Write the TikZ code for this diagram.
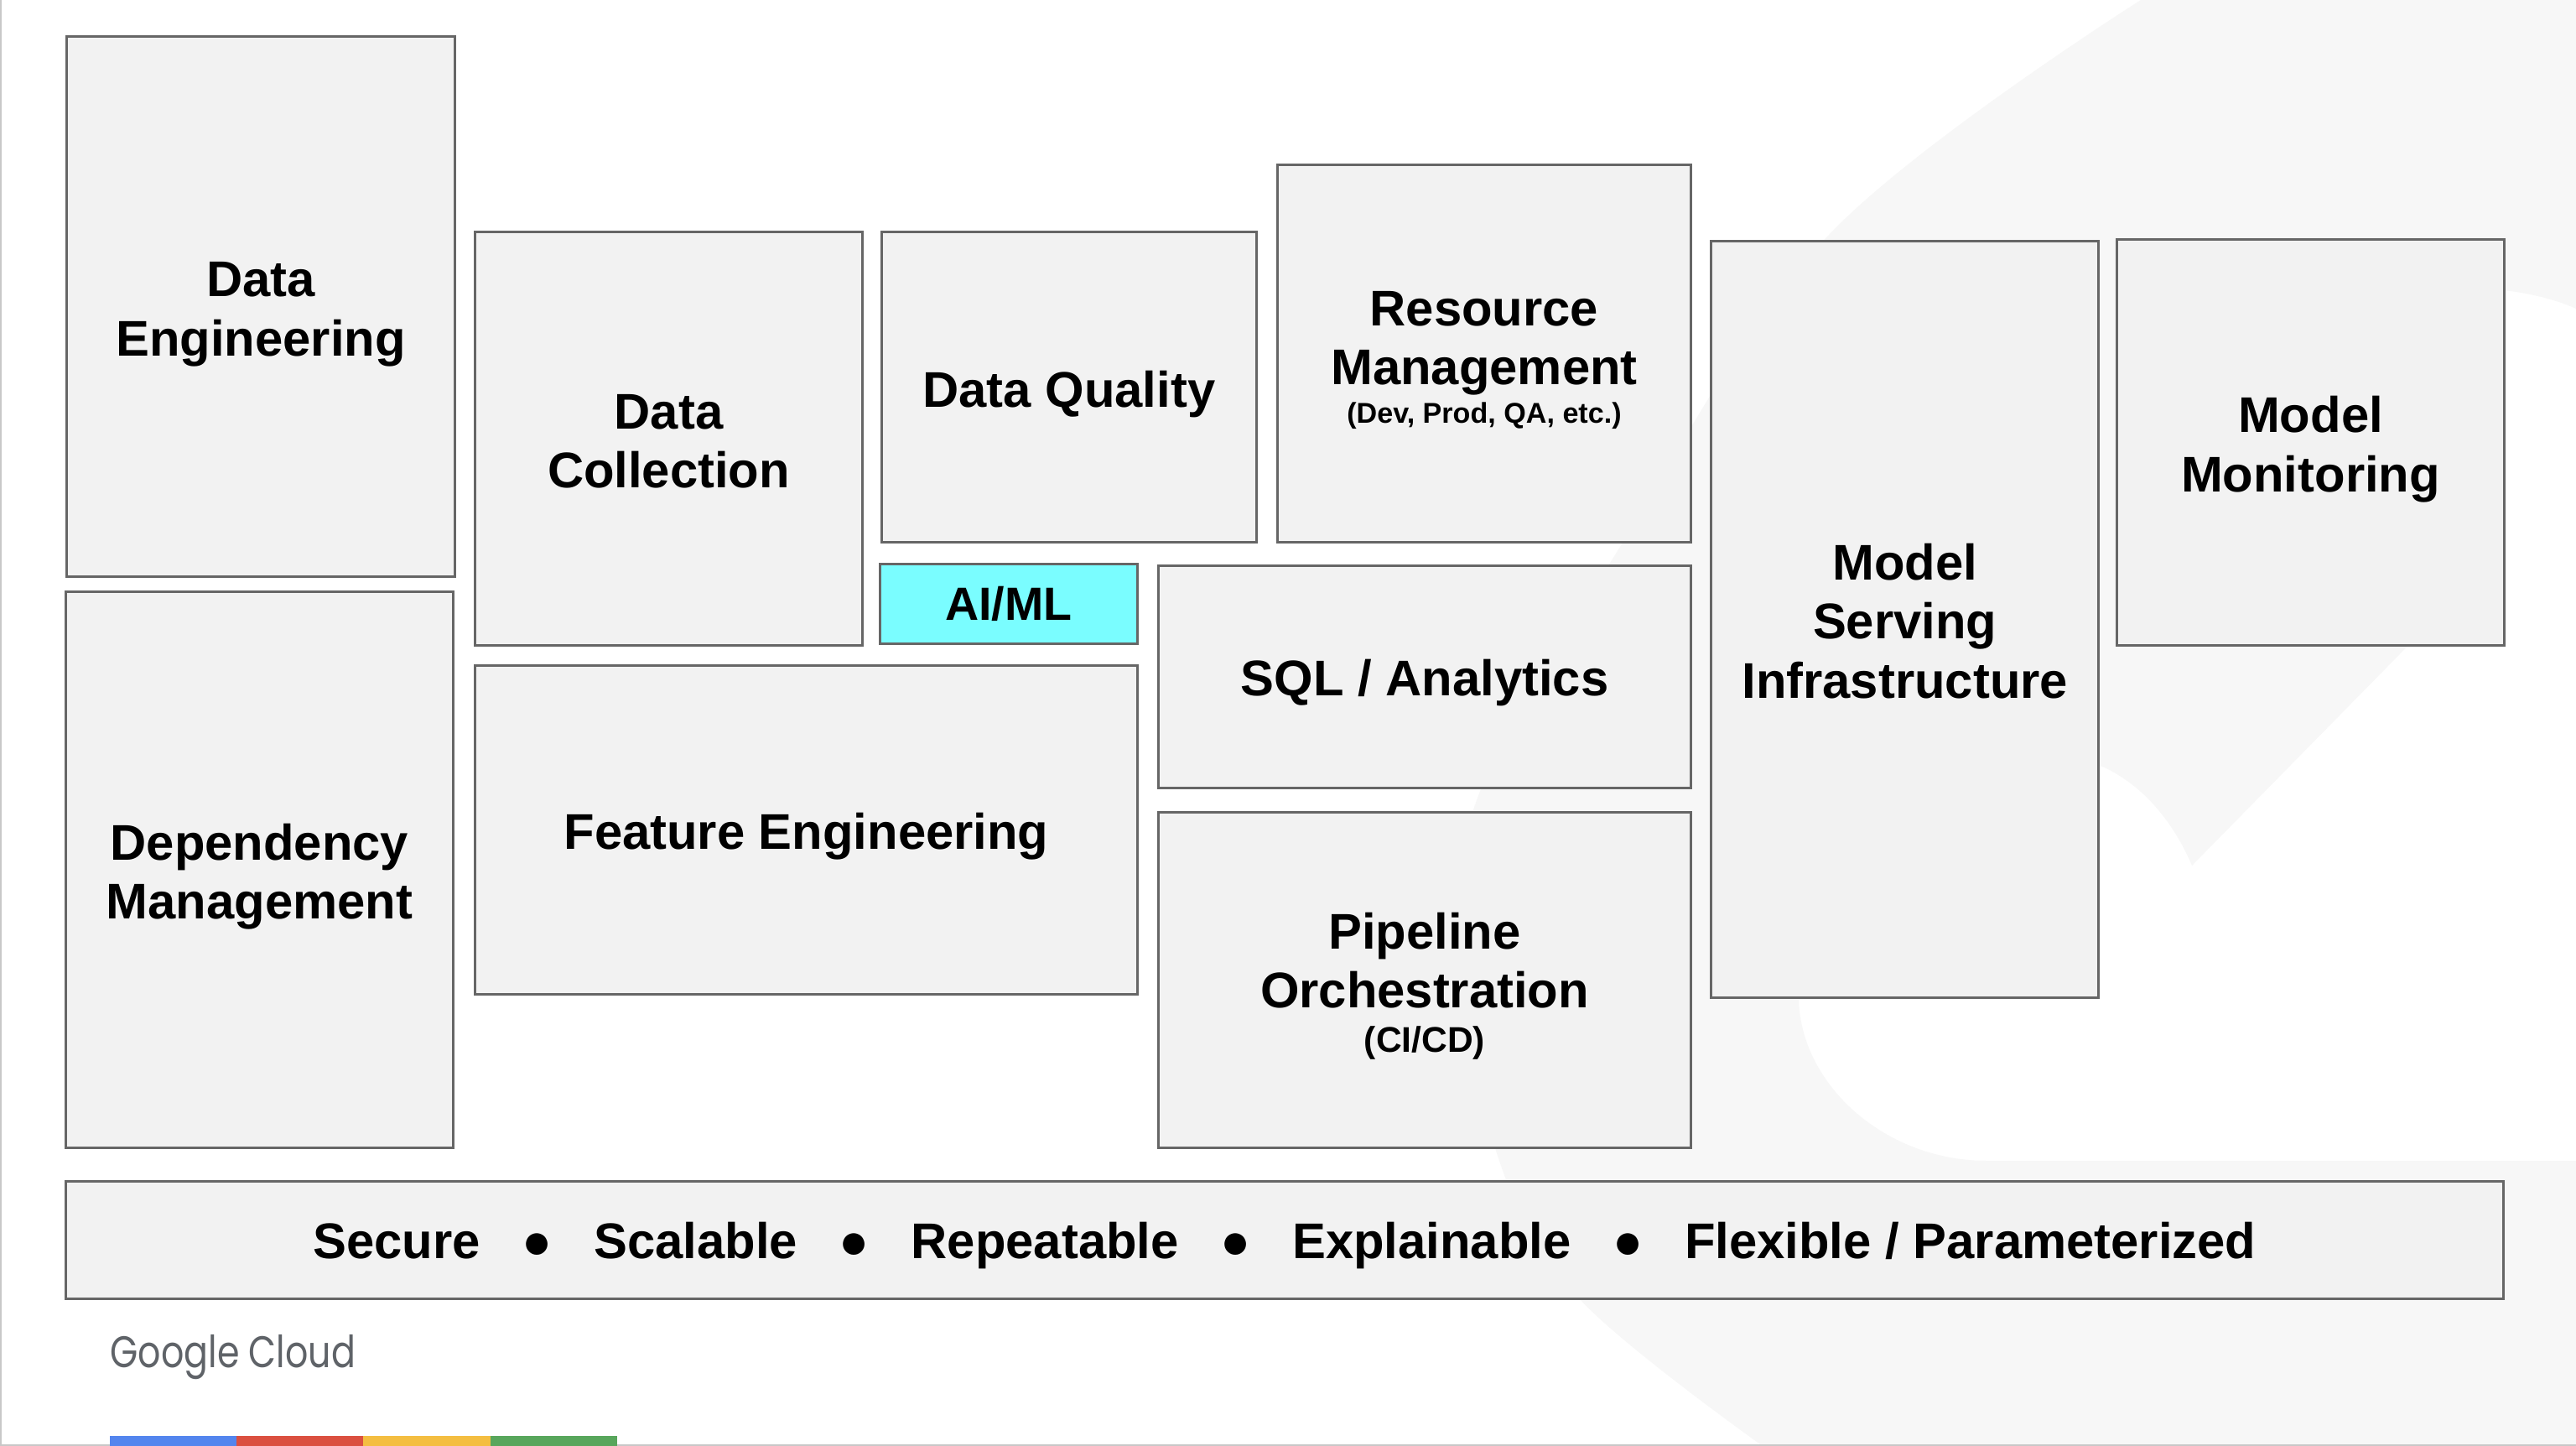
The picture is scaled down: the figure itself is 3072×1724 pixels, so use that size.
\documentclass[tikz,border=0pt]{standalone}
\usepackage{fontspec}
\setmainfont{Liberation Sans}
\newfontfamily\logofont{Poppins}
\definecolor{wm}{HTML}{F7F7F7}
\definecolor{boxfill}{HTML}{F2F2F2}
\definecolor{boxline}{HTML}{666666}
\definecolor{aicyan}{HTML}{7AFDFF}
\definecolor{edge}{HTML}{C8C8C8}
\definecolor{logogray}{HTML}{5F6368}
\definecolor{gblue}{HTML}{5385EE}
\definecolor{gred}{HTML}{DB5040}
\definecolor{gyellow}{HTML}{F4BE41}
\definecolor{ggreen}{HTML}{58A65C}
\tikzset{
  x=0.01cm,y=-0.01cm,
  panel/.style={draw=boxline,fill=boxfill,line width=0.03cm,rectangle,inner sep=0pt,align=center,
    font=\fontsize{17}{20}\selectfont\bfseries}
}
\newcommand{\tall}[1]{\rule{0pt}{#1pt}}
\begin{document}
\begin{tikzpicture}
\useasboundingbox (0,0) rectangle (3072,1724);
\fill[white] (0,0) rectangle (3072,1724);
% watermark
\begin{scope}
\clip (0,0) rectangle (3072,1724);
\fill[wm] plot[smooth,tension=0.6] coordinates {(2553,0) (2181,280) (1927,660) (1761,954) (1750,1150) (1787,1381) (1884,1549) (2102,1724)}
  -- (3072,1724) -- (3072,1384) -- (2370,1384)
  .. controls (2245,1384) and (2145,1290) .. (2145,1188)
  .. controls (2145,1000) and (2380,860) .. (2505,913)
  .. controls (2550,932) and (2590,975) .. (2614,1032)
  -- (2960,680) -- (2960,346) -- (2986,346)
  .. controls (3020,350) and (3050,358) .. (3072,368)
  -- (3072,0) -- cycle;
\end{scope}
\fill[edge] (0,0) rectangle (2,1724);
\fill[edge] (0,1722) rectangle (3072,1724);
% boxes
\node[panel,minimum width=4.62cm,minimum height=6.43cm] (de) at (311,365.5) {\tall{16.9}Data\\Engineering};
\node[panel,minimum width=4.61cm,minimum height=6.62cm] (dm) at (309.5,1037) {\tall{16.9}Dependency\\Management};
\node[panel,minimum width=4.61cm,minimum height=4.92cm] (dc) at (797.5,523) {\tall{13.5}Data\\Collection};
\node[panel,minimum width=4.46cm,minimum height=3.69cm] (dq) at (1275,461.5) {\tall{16.9}Data Quality};
\node[panel,minimum width=4.92cm,minimum height=4.49cm] (rm) at (1770,421.5) {\tall{16.3}Resource\\Management\\[-6.9pt]{\fontsize{9.7}{12}\selectfont (Dev, Prod, QA, etc.)}};
\node[panel,fill=aicyan,minimum width=3.06cm,minimum height=0.94cm,font=\fontsize{15.8}{20}\selectfont\bfseries] (ai) at (1203,720) {AI/ML};
\node[panel,minimum width=6.34cm,minimum height=2.64cm] (sql) at (1699,807) {\tall{16.5}SQL / Analytics};
\node[panel,minimum width=7.89cm,minimum height=3.91cm] (fe) at (961.5,989.5) {\tall{16.9}Feature Engineering};
\node[panel,minimum width=6.34cm,minimum height=3.99cm] (po) at (1699,1168.5) {\tall{16.3}Pipeline\\Orchestration\\[-5pt]{\fontsize{12.1}{14}\selectfont (CI/CD)}};
\node[panel,minimum width=4.62cm,minimum height=9.01cm] (ms) at (2271.7,738.5) {\tall{13.5}Model\\Serving\\Infrastructure};
\node[panel,minimum width=4.62cm,minimum height=4.83cm] (mm) at (2755.5,527.5) {\tall{16.9}Model\\Monitoring};
\node[panel,minimum width=29.06cm,minimum height=1.39cm] (qual) at (1532,1478.5) {\tall{15.8}Secure\hspace{14.15pt}●\hspace{14.15pt}Scalable\hspace{14.15pt}●\hspace{14.15pt}Repeatable\hspace{14.15pt}●\hspace{14.15pt}Explainable\hspace{14.15pt}●\hspace{14.15pt}Flexible / Parameterized};
% footer
\node[anchor=base west,inner sep=0pt,text=logogray,font=\logofont\fontsize{15}{15}\selectfont] (logo) at (131,1630) {\scalebox{0.81}[1]{Google Cloud}};
\fill[gblue] (131,1712) rectangle (282,1724);
\fill[gred] (282,1712) rectangle (433,1724);
\fill[gyellow] (433,1712) rectangle (585,1724);
\fill[ggreen] (585,1712) rectangle (736,1724);
\end{tikzpicture}
\end{document}
